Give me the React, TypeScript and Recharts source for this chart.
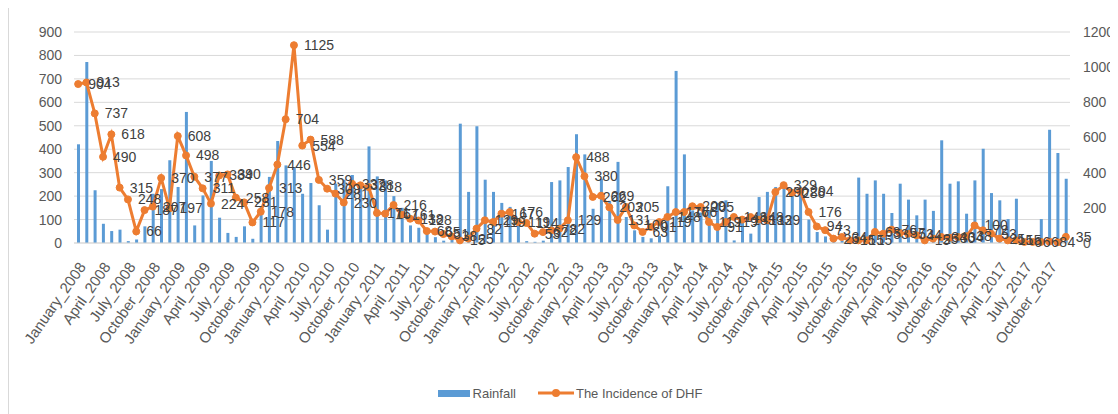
import React from "react";
import {
  Bar,
  CartesianGrid,
  ComposedChart,
  LabelList,
  Legend,
  Line,
  XAxis,
  YAxis,
} from "recharts";

const MONTHS = [
  "January", "February", "March", "April", "May", "June",
  "July", "August", "September", "October", "November", "December",
];
const YEARS = [2008, 2009, 2010, 2011, 2012, 2013, 2014, 2015, 2016, 2017];

// monthly rainfall, one row per year
const RAINFALL = [
  421, 772, 225, 82, 51, 57, 8, 15, 71, 210, 230, 353,
  239, 559, 75, 203, 350, 108, 43, 26, 71, 18, 154, 282,
  435, 331, 324, 210, 256, 161, 57, 253, 270, 290, 260, 412,
  284, 267, 200, 150, 75, 65, 40, 25, 10, 20, 509, 218,
  498, 270, 218, 171, 154, 97, 8, 5, 10, 260, 267, 324,
  464, 378, 146, 274, 180, 346, 111, 54, 26, 20, 30, 242,
  734, 378, 139, 130, 140, 171, 182, 11, 100, 40, 196, 218,
  239, 250, 210, 240, 100, 47, 28, 8, 10, 15, 279, 210,
  267, 210, 128, 253, 185, 118, 185, 137, 438, 253, 263, 125,
  267, 402, 213, 182, 102, 189, 0, 2, 102, 483, 384, 274,
];

// monthly incidence of DHF
const DHF = [
  904, 913, 737, 490, 618, 315, 248, 66, 187, 207, 370, 197,
  608, 498, 377, 311, 224, 384, 390, 258, 231, 117, 178, 313,
  446, 704, 1125, 554, 588, 359, 309, 281, 230, 337, 328, 318,
  171, 167, 216, 161, 138, 128, 68, 65, 51, 38, 15, 25,
  82, 129, 119, 167, 176, 119, 114, 53, 62, 72, 82, 129,
  488, 380, 262, 269, 203, 131, 205, 100, 63, 91, 119, 148,
  176, 176, 209, 205, 119, 91, 119, 148, 133, 148, 133, 129,
  290, 329, 286, 294, 176, 94, 73, 25, 34, 15, 15, 15,
  63, 53, 76, 57, 53, 44, 15, 25, 34, 30, 34, 38,
  100, 72, 53, 25, 15, 15, 6, 6, 6, 8, 4, 35,
];

const RAIN_TICKS = [0, 100, 200, 300, 400, 500, 600, 700, 800, 900];
const DHF_TICKS = [0, 200, 400, 600, 800, 1000, 1200];

const data = YEARS.flatMap((year, yi) =>
  MONTHS.map((m, mi) => ({
    month: `${m}_${year}`,
    rainfall: RAINFALL[yi * 12 + mi],
    dhf: DHF[yi * 12 + mi],
  }))
);

const TEXT = "#595959";

function MonthTick({ x, y, payload }: any) {
  return (
    <g transform={`translate(${x + 4},${y + 13})`}>
      <text
        textAnchor="end"
        transform="rotate(-55)"
        dy="0.35em"
        fill={TEXT}
        fontSize={15}
      >
        {payload.value}
      </text>
    </g>
  );
}

function ChartLegend() {
  return (
    <div
      style={{
        display: "flex",
        alignItems: "center",
        justifyContent: "center",
        height: 20,
        paddingLeft: 14,
        fontSize: 13,
        color: TEXT,
      }}
    >
      <span style={{ width: 32, height: 7, background: "#5B9BD5", marginRight: 3 }} />
      <span>Rainfall</span>
      <svg width={36} height={12} style={{ marginLeft: 22, marginRight: 2 }}>
        <line x1={0} y1={6} x2={36} y2={6} stroke="#ED7D31" strokeWidth={3} />
        <circle cx={18} cy={6} r={4} fill="#ED7D31" />
      </svg>
      <span>The Incidence of DHF</span>
    </div>
  );
}

export default function App() {
  return (
    <div
      style={{
        position: "relative",
        width: 1110,
        height: 406,
        fontFamily: '"Liberation Sans", Arial, sans-serif',
      }}
    >
      <div
        style={{
          position: "absolute",
          left: 0,
          top: 0,
          width: 1,
          height: 406,
          background: "#D9D9D9",
        }}
      />
      <ComposedChart
        width={1110}
        height={406}
        data={data}
        margin={{ top: 24, right: 0, left: 0, bottom: 11 }}
        style={{ fontFamily: '"Liberation Sans", Arial, sans-serif' }}
      >
        <CartesianGrid yAxisId="left" vertical={false} stroke="#D9D9D9" />
        <XAxis
          dataKey="month"
          interval={2}
          height={140}
          tickLine={false}
          axisLine={{ stroke: "#D9D9D9" }}
          tick={<MonthTick />}
        />
        <YAxis
          yAxisId="left"
          domain={[0, 900]}
          ticks={RAIN_TICKS}
          interval={0}
          width={66}
          axisLine={false}
          tickLine={false}
          tickMargin={6}
          tick={{ fill: TEXT, fontSize: 14 }}
        />
        <YAxis
          yAxisId="right"
          orientation="right"
          domain={[0, 1200]}
          ticks={DHF_TICKS}
          interval={0}
          width={48}
          axisLine={false}
          tickLine={false}
          tickMargin={7}
          tick={{ fill: TEXT, fontSize: 14 }}
        />
        <Bar
          yAxisId="left"
          dataKey="rainfall"
          name="Rainfall"
          fill="#5B9BD5"
          barSize={3}
          isAnimationActive={false}
        />
        <Line
          yAxisId="right"
          dataKey="dhf"
          name="The Incidence of DHF"
          stroke="#ED7D31"
          strokeWidth={3}
          dot={{ r: 3.5, fill: "#ED7D31", stroke: "#ED7D31", strokeWidth: 1 }}
          activeDot={false}
          isAnimationActive={false}
        >
          <LabelList dataKey="dhf" position="right" offset={10} fill="#404040" fontSize={14} />
        </Line>
        <Legend verticalAlign="bottom" height={20} content={<ChartLegend />} />
      </ComposedChart>
    </div>
  );
}
